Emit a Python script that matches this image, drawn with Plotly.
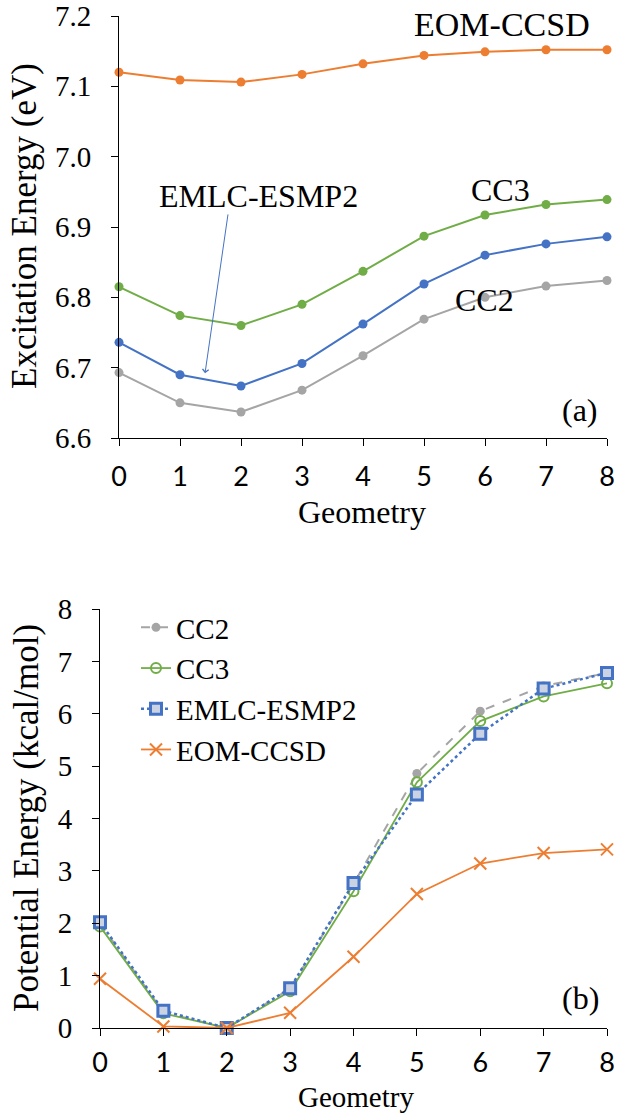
import plotly.graph_objects as go

geometry = [0, 1, 2, 3, 4, 5, 6, 7, 8]

# Panel (a): excitation energies (eV)
exc_eom_ccsd = [7.120, 7.109, 7.106, 7.117, 7.132, 7.144, 7.149, 7.152, 7.152]
exc_cc3 = [6.815, 6.774, 6.760, 6.790, 6.837, 6.887, 6.917, 6.932, 6.939]
exc_emlc = [6.736, 6.690, 6.674, 6.706, 6.762, 6.819, 6.860, 6.876, 6.886]
exc_cc2 = [6.693, 6.650, 6.637, 6.668, 6.717, 6.769, 6.800, 6.816, 6.824]

# Panel (b): potential energies (kcal/mol)
pe_cc2 = [2.00, 0.30, 0.00, 0.75, 2.75, 4.86, 6.05, 6.53, 6.78]
pe_cc3 = [1.94, 0.28, 0.00, 0.70, 2.61, 4.69, 5.86, 6.33, 6.58]
pe_emlc = [2.02, 0.33, 0.00, 0.76, 2.77, 4.46, 5.62, 6.48, 6.78]
pe_eom = [0.94, 0.03, 0.00, 0.29, 1.36, 2.56, 3.14, 3.34, 3.41]

W, H = 617, 1113
ORANGE, GREEN, BLUE, GREY = "#ED7D31", "#70AD47", "#4472C4", "#A5A5A5"
SERIF = "Liberation Serif"
SANS = "Lato"


def px(x):
    return x / W


def py(y):
    return 1 - y / H


fig = go.Figure()

# Panel (a)
for vals, col in [(exc_eom_ccsd, ORANGE), (exc_cc3, GREEN), (exc_emlc, BLUE), (exc_cc2, GREY)]:
    fig.add_trace(go.Scatter(
        x=geometry, y=vals, mode="lines+markers", xaxis="x", yaxis="y",
        line=dict(color=col, width=2), marker=dict(color=col, size=9, symbol="circle"),
        showlegend=False, cliponaxis=False))

# Panel (b)
fig.add_trace(go.Scatter(
    x=geometry, y=pe_cc2, mode="lines+markers", name="CC2", xaxis="x2", yaxis="y2",
    line=dict(color=GREY, width=2, dash="dash"), marker=dict(color=GREY, size=9, symbol="circle"),
    cliponaxis=False))
fig.add_trace(go.Scatter(
    x=geometry, y=pe_cc3, mode="lines+markers", name="CC3", xaxis="x2", yaxis="y2",
    line=dict(color=GREEN, width=1.8), marker=dict(color=GREEN, size=10, symbol="circle-open", line=dict(width=2)),
    cliponaxis=False))
fig.add_trace(go.Scatter(
    x=geometry, y=pe_emlc, mode="lines+markers", name="EMLC-ESMP2", xaxis="x2", yaxis="y2",
    line=dict(color=BLUE, width=2.5, dash="dot"),
    marker=dict(color="#C9D3E3", size=11, symbol="square", line=dict(color=BLUE, width=3)),
    cliponaxis=False))
fig.add_trace(go.Scatter(
    x=geometry, y=pe_eom, mode="lines+markers", name="EOM-CCSD", xaxis="x2", yaxis="y2",
    line=dict(color=ORANGE, width=1.8),
    marker=dict(color=ORANGE, size=12, symbol="x-thin", line=dict(color=ORANGE, width=2)),
    cliponaxis=False))

axis_common = dict(showgrid=False, zeroline=False, showline=True, linecolor="#000000", linewidth=1,
                   ticks="outside", ticklen=7, tickcolor="#000000", mirror=False, automargin=False)

fig.update_layout(
    width=W, height=H, margin=dict(l=0, r=0, t=0, b=0, autoexpand=False),
    paper_bgcolor="white", plot_bgcolor="white",
    xaxis=dict(domain=[px(119), px(607)], anchor="y", range=[0, 8], tickvals=geometry,
               tickfont=dict(family=SANS, size=27, color="#000"), ticklabelstandoff=8, **axis_common),
    yaxis=dict(domain=[py(438), py(16)], anchor="x", range=[6.6, 7.2], dtick=0.1, tickformat=".1f",
               tickfont=dict(family=SERIF, size=29, color="#000"), ticklabelstandoff=14, **axis_common),
    xaxis2=dict(domain=[px(100), px(607)], anchor="y2", range=[0, 8], tickvals=geometry,
                tickfont=dict(family=SANS, size=27, color="#000"), ticklabelstandoff=4, **axis_common),
    yaxis2=dict(domain=[py(1028), py(609)], anchor="x2", range=[0, 8], dtick=1,
                tickfont=dict(family=SERIF, size=29, color="#000"), ticklabelstandoff=14, **axis_common),
    legend=dict(x=px(136), y=py(602), xanchor="left", yanchor="top", bgcolor="rgba(0,0,0,0)",
                font=dict(family=SERIF, size=29, color="#000"), tracegroupgap=0, itemwidth=30),
    font=dict(family=SERIF, color="#000"),
)

ann = []


def text(x, y, s, size=32, xanchor="center", angle=0):
    ann.append(dict(x=px(x), y=py(y), xref="paper", yref="paper", text=s, showarrow=False,
                    xanchor=xanchor, yanchor="middle", textangle=angle,
                    font=dict(family=SERIF, size=size, color="#000")))


text(362, 512, "Geometry", 32)
text(356, 1097, "Geometry", 29)
text(25, 226, "Excitation Energy (eV)", 35, angle=-90)
text(26, 818, "Potential Energy (kcal/mol)", 35, angle=-90)
text(502, 24, "EOM-CCSD", 34)
text(500, 190, "CC3", 32)
text(484, 300, "CC2", 32)
text(258, 196, "EMLC-ESMP2", 32)
text(580, 410, "(a)", 32)
text(580, 998, "(b)", 32)

ann.append(dict(x=1.41, y=6.692, xref="x", yref="y", ax=1.79, ay=6.92, axref="x", ayref="y",
                showarrow=True, arrowhead=4, arrowsize=1.2, arrowwidth=1, arrowcolor=BLUE, text=""))

fig.update_layout(annotations=ann)
fig.write_html("out.html", config={"displayModeBar": False},
               post_script="document.body.style.margin='0';document.body.style.overflow='hidden';")
